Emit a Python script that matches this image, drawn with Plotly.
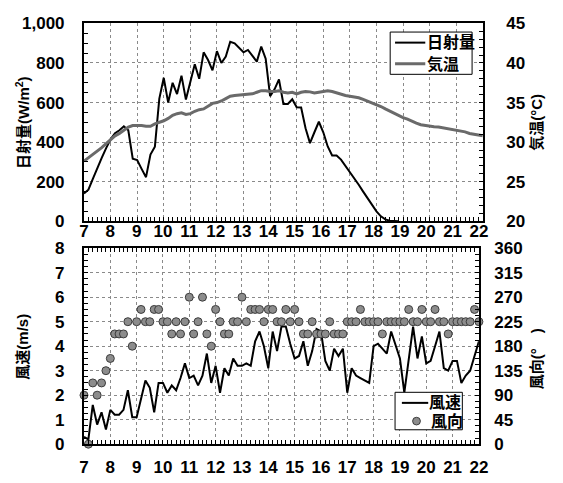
import plotly.graph_objects as go

# 10-minute observations, 7:00 - 22:00
hours = [7 + i / 6 for i in range(91)]

solar = [140, 160, 215, 270, 320, 370,
         415, 445, 460, 480, 460, 316,
         309, 265, 223, 337, 377, 620,
         725, 600, 700, 643, 736, 615,
         712, 794, 720, 854, 815, 763,
         860, 800, 833, 907, 899, 875,
         854, 866, 838, 807, 883, 822,
         632, 667, 717, 593, 593, 617,
         576, 575, 470, 395, 450, 503,
         450, 378, 333, 332, 312, 280,
         250, 222, 185, 150, 115, 82,
         50, 25, 10, 3, 0, 0]

temperature = [27.6, 28.0, 28.4, 28.8, 29.3, 29.8,
               30.3, 30.8, 31.1, 31.5, 31.9, 32.1,
               32.1, 32.1, 32.0, 32.0, 32.3, 32.5,
               32.7, 33.0, 33.4, 33.6, 33.7, 33.5,
               33.6, 33.9, 34.1, 34.2, 34.5, 34.9,
               35.0, 35.2, 35.5, 35.8, 35.9, 35.95,
               36.0, 36.05, 36.1, 36.3, 36.5, 36.5,
               36.4, 36.4, 36.5, 36.3, 36.2, 36.3,
               36.1, 36.3, 36.4, 36.35, 36.2, 36.3,
               36.4, 36.5, 36.4, 36.2, 36.1, 35.9,
               35.8, 35.7, 35.6, 35.4, 35.2, 35.0,
               34.8, 34.5, 34.2, 33.9, 33.6, 33.3,
               33.1, 32.9, 32.6, 32.4, 32.2, 32.1,
               32.0, 31.95, 31.9, 31.8, 31.7, 31.6,
               31.5, 31.4, 31.3, 31.1, 31.0, 30.9,
               30.8]

wind_speed = [0.3, 0.2, 1.6, 0.8, 1.3, 0.6,
              1.4, 1.2, 1.2, 1.4, 2.2, 1.1,
              1.1, 1.8, 2.6, 2.3, 1.3, 2.5,
              2.5, 2.1, 2.4, 2.2, 2.7, 3.3,
              2.7, 2.8, 2.4, 2.8, 3.7, 2.5,
              3.2, 2.1, 3.1, 2.8, 3.5, 3.2,
              3.2, 3.3, 3.2, 4.2, 4.6, 4.0,
              3.1, 4.6, 3.8, 4.8, 4.8, 4.1,
              3.5, 3.6, 4.2, 3.2, 3.8, 4.7,
              4.6, 3.4, 3.0, 3.9, 3.6, 3.9,
              2.1, 3.1, 2.8, 2.7, 2.6, 2.5,
              4.0, 4.1, 3.9, 3.7, 4.6, 4.0,
              3.5, 2.1, 3.4, 4.8, 3.5, 4.4,
              3.3, 3.4, 4.0, 4.6, 3.1, 3.0,
              3.4, 3.4, 2.5, 2.8, 3.0, 3.6,
              4.2]

wind_dir = [90, 0, 112.5, 90, 112.5, 135,
            157.5, 202.5, 202.5, 202.5, 225, 180,
            225, 247.5, 225, 225, 247.5, 247.5,
            225, 225, 202.5, 225, 202.5, 225,
            270, 202.5, 225, 270, 202.5, 180,
            247.5, 225, 202.5, 202.5, 225, 225,
            270, 225, 247.5, 247.5, 247.5, 225,
            247.5, 247.5, 225, 225, 247.5, 225,
            247.5, 225, 202.5, 202.5, 225, 202.5,
            202.5, 202.5, 225, 202.5, 202.5, 202.5,
            225, 225, 225, 247.5, 225, 225,
            225, 225, 202.5, 225, 225, 225,
            225, 225, 247.5, 225, 225, 247.5,
            225, 225, 247.5, 225, 225, 202.5,
            225, 225, 225, 225, 225, 247.5,
            225]

hour_ticks = list(range(7, 23))

W, H = 563, 483
FONT = "Liberation Sans, Arial, Noto Sans CJK JP, sans-serif"
NUM_FONT = "Liberation Sans Narrow, Arial Narrow, Liberation Sans, sans-serif"
GRID = "#8a8a8a"
TEMP_COLOR = "#6a6a6a"
DOT_FILL = "#8c8c8c"
DOT_EDGE = "#3c3c3c"


def px_x(p):
    return p / W


def px_y(p):
    return 1 - p / H


tick_font = dict(family=NUM_FONT, size=17, color="black", weight="bold")

fig = go.Figure()

fig.add_trace(go.Scatter(x=hours[:len(solar)], y=solar, name="日射量",
                         mode="lines", line=dict(color="black", width=2),
                         xaxis="x", yaxis="y"))
fig.add_trace(go.Scatter(x=hours, y=temperature, name="気温",
                         mode="lines", line=dict(color=TEMP_COLOR, width=3),
                         xaxis="x", yaxis="y2"))
fig.add_trace(go.Scatter(x=hours, y=wind_speed, name="風速",
                         mode="lines", line=dict(color="black", width=2),
                         xaxis="x2", yaxis="y3"))
fig.add_trace(go.Scatter(x=hours, y=wind_dir, name="風向",
                         mode="markers",
                         marker=dict(size=8, color=DOT_FILL,
                                     line=dict(color=DOT_EDGE, width=1)),
                         xaxis="x2", yaxis="y4", cliponaxis=False))
# carries the hour labels along the top edge of the wind panel
fig.add_trace(go.Scatter(x=[7, 22], y=[None, None], mode="lines",
                         hoverinfo="skip", xaxis="x3", yaxis="y3"))

top_dom = [px_y(221), px_y(15)]
bot_dom = [px_y(453), px_y(249)]

x_common = dict(range=[7, 22], tickvals=hour_ticks, showline=True,
                linecolor="black", linewidth=2, ticks="inside", ticklen=4,
                tickcolor="black", tickfont=tick_font, zeroline=False,
                minor=dict(dtick=1 / 6, ticks="inside", ticklen=4,
                           tickcolor="black", showgrid=False))

fig.update_layout(
    width=W, height=H,
    margin=dict(l=0, r=0, t=0, b=0),
    paper_bgcolor="white", plot_bgcolor="white",
    font=dict(family=FONT, color="black"),
    showlegend=False,
    xaxis=dict(domain=[px_x(81), px_x(490)], anchor="y", mirror=True,
               showticklabels=False, showgrid=True, gridcolor=GRID,
               griddash="dot", gridwidth=1, **x_common),
    yaxis=dict(domain=top_dom, anchor="x", range=[0, 1000], dtick=200,
               tickformat=",", showline=True, linecolor="black",
               linewidth=2, ticks="inside", ticklen=4, tickcolor="black",
               tickfont=tick_font, ticklabelstandoff=14, showgrid=True,
               gridcolor=GRID, griddash="dot", gridwidth=1, zeroline=False,
               minor=dict(dtick=50, ticks="inside", ticklen=4,
                          tickcolor="black", showgrid=False)),
    yaxis2=dict(overlaying="y", side="right", anchor="x", range=[20, 45],
                dtick=5, showline=True, linecolor="black", linewidth=2,
                ticks="inside", ticklen=4, tickcolor="black",
                tickfont=tick_font, ticklabelstandoff=18, showgrid=False,
                zeroline=False,
                minor=dict(dtick=1, ticks="inside", ticklen=4,
                           tickcolor="black", showgrid=False)),
    xaxis2=dict(domain=[px_x(81), px_x(486)], anchor="y3", side="bottom",
                showticklabels=True, ticklabelstandoff=6, showgrid=True,
                gridcolor=GRID, griddash="dot", gridwidth=1, **x_common),
    xaxis3=dict(domain=[px_x(81), px_x(486)], anchor="y3", side="top",
                overlaying="x2", showticklabels=True, ticklabelstandoff=2,
                showgrid=False, **x_common),
    yaxis3=dict(domain=bot_dom, anchor="x2", range=[0, 8], dtick=1,
                showline=True, linecolor="black", linewidth=2,
                ticks="inside", ticklen=4, tickcolor="black",
                tickfont=tick_font, ticklabelstandoff=14, showgrid=True,
                gridcolor=GRID, griddash="dot", gridwidth=1, zeroline=False,
                minor=dict(dtick=0.25, ticks="inside", ticklen=4,
                           tickcolor="black", showgrid=False)),
    yaxis4=dict(overlaying="y3", side="right", anchor="x2", range=[0, 360],
                dtick=45, showline=True, linecolor="black", linewidth=2,
                ticks="inside", ticklen=4, tickcolor="black",
                tickfont=tick_font, ticklabelstandoff=10, showgrid=False,
                zeroline=False,
                minor=dict(dtick=11.25, ticks="inside", ticklen=4,
                           tickcolor="black", showgrid=False)),
)

# axis titles, rotated to read bottom-to-top
title_font = dict(family=FONT, size=15, color="black", weight="bold")
axis_titles = [
    ("日射量(W/m<sup>2</sup>)", 18, 118),
    ("気温(°C)", 545, 118),
    ("風速(m/s)", 18, 352),
    ("風向(°　)", 545, 364),
]
for text, ax_px, ay_px in axis_titles:
    fig.add_annotation(text=text, x=px_x(ax_px), y=px_y(ay_px),
                       xref="paper", yref="paper", showarrow=False,
                       textangle=-90, font=title_font,
                       xanchor="center", yanchor="middle")

# compact boxed keys, one per panel
legend_font = dict(family=FONT, size=16, color="black", weight="bold")


def key_box(x0, y0, x1, y1):
    fig.add_shape(type="rect", xref="paper", yref="paper", layer="above",
                  x0=px_x(x0), x1=px_x(x1), y0=px_y(y1), y1=px_y(y0),
                  line=dict(color="black", width=1), fillcolor="white")


def key_line(x0, x1, y, color, width):
    fig.add_shape(type="line", xref="paper", yref="paper", layer="above",
                  x0=px_x(x0), x1=px_x(x1), y0=px_y(y), y1=px_y(y),
                  line=dict(color=color, width=width))


def key_dot(cx, cy, r):
    fig.add_shape(type="circle", xref="paper", yref="paper", layer="above",
                  x0=px_x(cx - r), x1=px_x(cx + r),
                  y0=px_y(cy + r), y1=px_y(cy - r),
                  line=dict(color=DOT_EDGE, width=1), fillcolor=DOT_FILL)


def key_text(text, x, y):
    fig.add_annotation(text=text, x=px_x(x), y=px_y(y), xref="paper",
                       yref="paper", showarrow=False, font=legend_font,
                       xanchor="left", yanchor="middle")


key_box(395, 24, 479, 68)
key_line(400, 431, 35, "black", 2)
key_text("日射量", 431, 35)
key_line(400, 431, 57, TEMP_COLOR, 3)
key_text("気温", 431, 57)

key_box(400, 399, 469, 438)
key_line(407, 434, 410, "black", 2)
key_text("風速", 433, 410)
key_dot(422, 429, 4)
key_text("風向", 435, 429)

fig.write_html("out.html")
